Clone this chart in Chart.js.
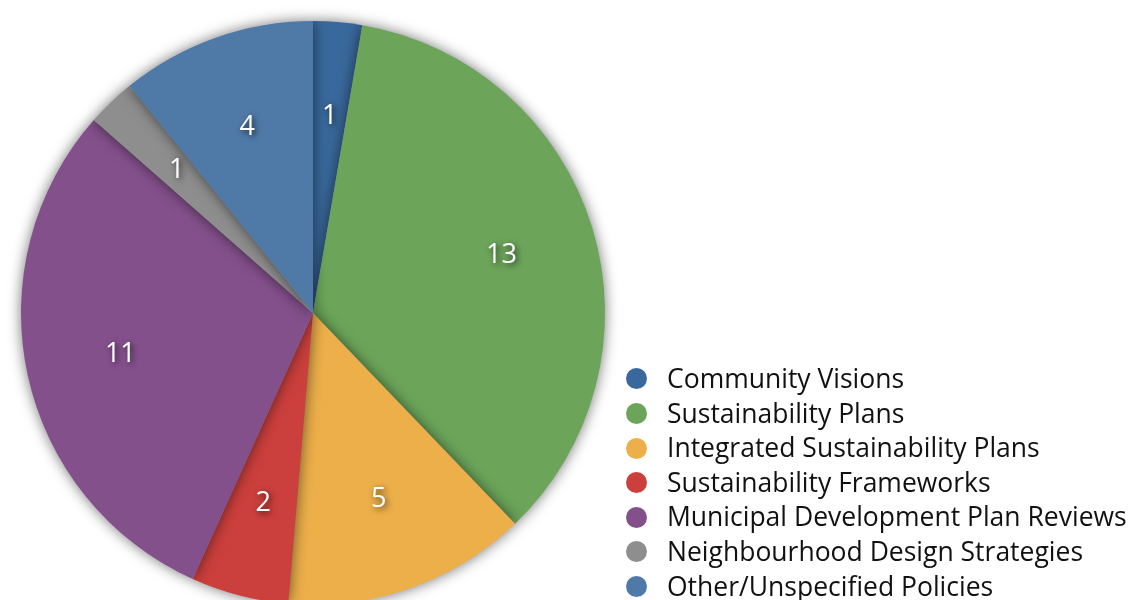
<!DOCTYPE html>
<html>
<head>
<meta charset="utf-8">
<title>Policy types</title>
<script src="https://cdn.jsdelivr.net/npm/chart.js@4"></script>
<style>
  html, body { margin: 0; padding: 0; background: #fff; overflow: hidden; }
  #wrap { position: relative; width: 1130px; height: 600px; overflow: hidden; }
  #pie { position: absolute; left: 0; top: 0; }
  #legend { position: absolute; left: 626px; top: 361px; list-style: none; margin: 0; padding: 0;
            font-family: "Open Sans", sans-serif; font-size: 26.5px; color: #111; }
  #legend li { height: 34.6px; line-height: 34.6px; white-space: nowrap; }
  #legend span { display: inline-block; width: 21px; height: 21px; border-radius: 50%;
                 vertical-align: middle; margin-right: 20px; position: relative; top: -2px; }
</style>
</head>
<body>
<div id="wrap">
  <canvas id="pie" width="1130" height="630"></canvas>
  <ul id="legend"></ul>
</div>
<script>
//----------------- chart data -------------------------
const categories = [
  "Community Visions",
  "Sustainability Plans",
  "Integrated Sustainability Plans",
  "Sustainability Frameworks",
  "Municipal Development Plan Reviews",
  "Neighbourhood Design Strategies",
  "Other/Unspecified Policies"
];
const counts = [1, 13, 5, 2, 11, 1, 4];
const sliceColors = ["#39699c", "#6ca55a", "#ecaf4a", "#cb3f3c", "#84508c", "#8e8e8e", "#4f7aa8"];

//----------------- html legend -------------------------
const legendList = document.querySelector("#legend");
for (let i = 0; i < categories.length; i++) {
  let li = document.createElement("li");
  let dot = document.createElement("span");
  dot.style.background = sliceColors[i];
  li.appendChild(dot);
  li.appendChild(document.createTextNode(categories[i]));
  legendList.appendChild(li);
}

//----------------- shadow behind the slices -------------------------
const sliceShadow = {
  id: "sliceShadow",
  beforeDatasetsDraw(chart) {
    const ctx = chart.ctx;
    ctx.save();
    ctx.shadowColor = "rgba(0,0,0,0.55)";
    ctx.shadowBlur = 14;
    ctx.shadowOffsetX = 0;
    ctx.shadowOffsetY = 0;
  },
  afterDatasetsDraw(chart) {
    chart.ctx.restore();
  }
};

//----------------- value labels inside slices -------------------------
const sliceLabels = {
  id: "sliceLabels",
  afterDatasetsDraw(chart) {
    const ctx = chart.ctx;
    const meta = chart.getDatasetMeta(0);
    ctx.save();
    ctx.font = "27px 'Open Sans', sans-serif";
    ctx.textAlign = "center";
    ctx.textBaseline = "middle";
    ctx.fillStyle = "#fff";
    ctx.shadowColor = "rgba(0,0,0,0.75)";
    ctx.shadowBlur = 6;
    ctx.shadowOffsetX = 2;
    ctx.shadowOffsetY = 2;
    meta.data.forEach((arc, i) => {
      const p = arc.getProps(["x", "y", "startAngle", "endAngle", "outerRadius"], true);
      const mid = (p.startAngle + p.endAngle) / 2;
      const r = p.outerRadius * 0.675;
      ctx.fillText(String(counts[i]), p.x + Math.cos(mid) * r, p.y + Math.sin(mid) * r);
    });
    ctx.restore();
  }
};

new Chart(document.getElementById("pie").getContext("2d"), {
  type: "pie",
  data: {
    labels: categories,
    datasets: [{
      data: counts,
      backgroundColor: sliceColors,
      borderWidth: 0
    }]
  },
  options: {
    responsive: false,
    animation: false,
    layout: { padding: { left: 21, top: 21, right: 525, bottom: 25 } },
    plugins: {
      legend: { display: false },
      tooltip: { enabled: false }
    }
  },
  plugins: [sliceShadow, sliceLabels]
});
</script>
</body>
</html>
